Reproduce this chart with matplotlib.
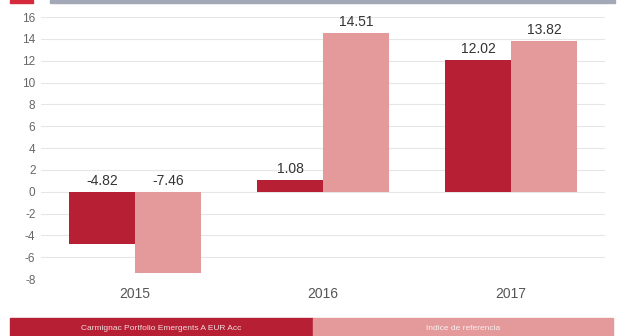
import matplotlib.pyplot as plt
import numpy as np
from matplotlib.patches import Rectangle

plt.rcParams['font.family'] = ['Liberation Sans', 'DejaVu Sans']
plt.rcParams['axes.unicode_minus'] = False

years = ["2015", "2016", "2017"]
fund = [-4.82, 1.08, 12.02]
index = [-7.46, 14.51, 13.82]
series_names = ["Carmignac Portfolio Emergents A EUR Acc", "Indice de referencia"]
yticks = list(range(-8, 17, 2))

dark = "#b71f34"
light = "#e49a9b"

fig = plt.figure(figsize=(6.22, 3.36), dpi=100)
ax = fig.add_axes([41 / 622, 1 - 279 / 336, 564 / 622, 262 / 336])

x = np.arange(len(years))
w = 0.35
b1 = ax.bar(x - w / 2, fund, w, color=dark, zorder=2)
b2 = ax.bar(x + w / 2, index, w, color=light, zorder=2)

for bars, vals in ((b1, fund), (b2, index)):
    for rect, v in zip(bars, vals):
        y = max(v, 0)
        ax.annotate(f"{v:.2f}", (rect.get_x() + rect.get_width() / 2, y),
                    xytext=(0, 3), textcoords="offset points",
                    ha="center", va="bottom", fontsize=10, color="#333333")

ax.set_xlim(-0.5, 2.5)
ax.set_ylim(-8, 16)
ax.set_yticks(yticks)
ax.set_xticks(x)
ax.set_xticklabels(years)
ax.grid(axis="y", color="#e6e6e6", linewidth=0.8, zorder=0)
for s in ax.spines.values():
    s.set_visible(False)
ax.tick_params(axis="y", length=0, labelsize=8.5, labelcolor="#666666", pad=4)
ax.tick_params(axis="x", length=0, labelsize=10, labelcolor="#555555", pad=6)

# top header fragments
fig.patches.append(Rectangle((10 / 622, 1 - 3 / 336), 23 / 622, 3 / 336,
                             transform=fig.transFigure, color="#d42a3c"))
fig.patches.append(Rectangle((50 / 622, 1 - 3 / 336), 565 / 622, 3 / 336,
                             transform=fig.transFigure, color="#a3a8b6"))

# legend bar
fig.patches.append(Rectangle((10 / 622, 0), 303 / 622, 18 / 336,
                             transform=fig.transFigure, color=dark))
fig.patches.append(Rectangle((313 / 622, 0), 300 / 622, 18 / 336,
                             transform=fig.transFigure, color=light))
fig.text(161 / 622, 8 / 336, series_names[0], ha="center", va="center",
         fontsize=6, color="#f2dcdc")
fig.text(463 / 622, 8 / 336, series_names[1], ha="center", va="center",
         fontsize=6, color="#fbeeee")

fig.savefig("out.png", dpi=100)
